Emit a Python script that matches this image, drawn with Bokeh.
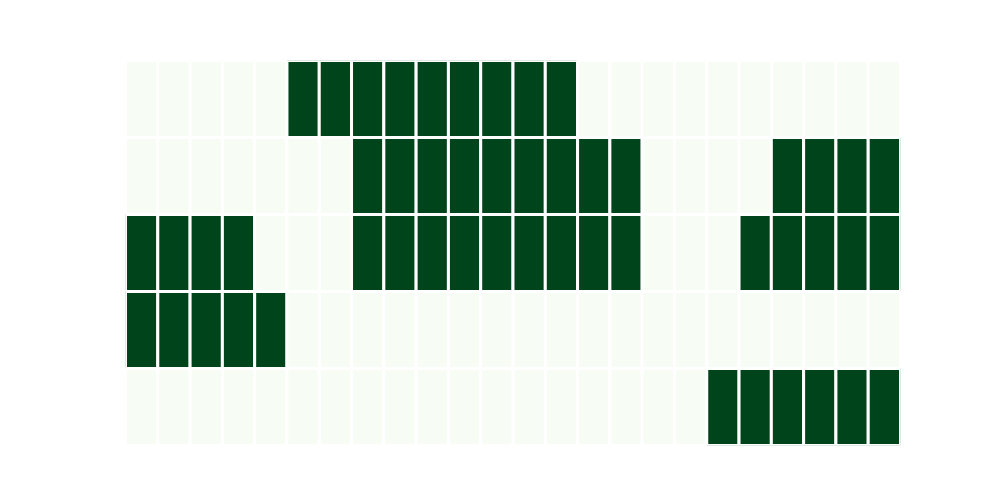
from bokeh.plotting import figure
from bokeh.models import ColumnDataSource, Range1d
from bokeh.embed import file_html
from bokeh.resources import INLINE

# Binary grid values, rows listed top to bottom, 24 columns each
row_labels = ["r1", "r2", "r3", "r4", "r5"]
row1 = [0,0,0,0,0,1,1,1,1,1,1,1,1,1,0,0,0,0,0,0,0,0,0,0]
row2 = [0,0,0,0,0,0,0,1,1,1,1,1,1,1,1,1,0,0,0,0,1,1,1,1]
row3 = [1,1,1,1,0,0,0,1,1,1,1,1,1,1,1,1,0,0,0,1,1,1,1,1]
row4 = [1,1,1,1,1,0,0,0,0,0,0,0,0,0,0,0,0,0,0,0,0,0,0,0]
row5 = [0,0,0,0,0,0,0,0,0,0,0,0,0,0,0,0,0,0,1,1,1,1,1,1]
rows = [row1, row2, row3, row4, row5]

low_color = "#f7fcf5"
high_color = "#00441b"

xs, ys, colors = [], [], []
n_rows = len(rows)
for ri, r in enumerate(rows):
    for ci, v in enumerate(r):
        xs.append(ci + 0.5)
        ys.append(n_rows - ri - 0.5)
        colors.append(high_color if v else low_color)

src = ColumnDataSource(dict(x=xs, y=ys, c=colors))

p = figure(width=984, height=484, output_backend="svg", toolbar_location=None,
           x_range=Range1d(0, 24), y_range=Range1d(0, n_rows),
           min_border_left=125, min_border_top=60, min_border_right=84, min_border_bottom=39)
p.frame_width = 775
p.frame_height = 385
p.rect(x="x", y="y", width=1, height=1, source=src, fill_color="c",
       line_color="white", line_width=3)
p.axis.visible = False
p.grid.visible = False
p.outline_line_color = None
p.background_fill_color = "white"
p.border_fill_color = "white"

open("out.html", "w").write(file_html(p, INLINE))
